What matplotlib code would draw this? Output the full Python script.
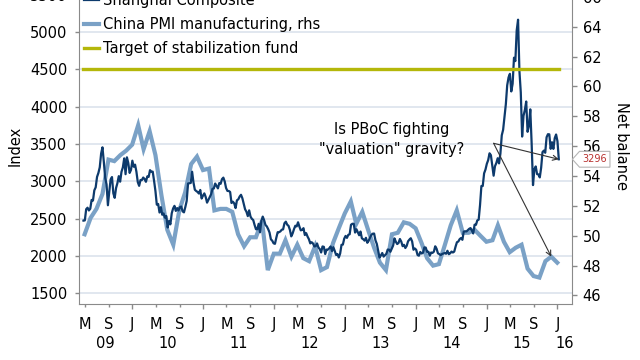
import matplotlib
matplotlib.use("Agg")
import matplotlib.pyplot as plt
import matplotlib.dates as mdates
from matplotlib.path import Path
from matplotlib.ticker import FuncFormatter, MultipleLocator
import pandas as pd

plt.rcParams["font.family"] = ["DejaVu Sans"]
plt.rcParams["font.size"] = 10

# Shanghai Composite, weekly (Friday) closes
sh_2009 = [2474, 2477, 2627, 2647, 2610, 2633, 2751, 2743, 2880, 2920, 3060, 3113,
           3189, 3372, 3456, 3260, 3046, 2960, 2680, 2862, 3026, 3058, 2840, 2779,
           2911, 2976, 3070, 2996, 3128, 3187, 3308, 3096, 3322, 3247, 3113, 3154]
sh_2010 = [3277, 3196, 3224, 3128, 2990, 2940, 3018, 3018, 3051, 3031, 2994, 3067,
           3060, 3150, 3131, 3130, 3006, 2870, 2688, 2697, 2583, 2655, 2553, 2570,
           2514, 2535, 2382, 2470, 2424, 2573, 2637, 2672, 2604, 2642, 2610, 2655,
           2663, 2598, 2585, 2656, 2738, 2971, 2975, 2979, 3129, 2985, 2888, 2871,
           2858, 2837, 2885, 2770, 2808]
sh_2011 = [2839, 2791, 2715, 2752, 2790, 2828, 2900, 2905, 2971, 2937, 2906, 2977,
           2967, 3030, 3050, 2999, 2911, 2872, 2871, 2858, 2710, 2728, 2705, 2642,
           2746, 2759, 2797, 2820, 2774, 2701, 2626, 2593, 2534, 2612, 2528, 2498,
           2482, 2416, 2359, 2359, 2431, 2318, 2473, 2528, 2481, 2416, 2397, 2360,
           2315, 2224, 2205, 2170]
sh_2012 = [2163, 2245, 2319, 2319, 2330, 2352, 2357, 2439, 2460, 2420, 2404, 2350,
           2263, 2302, 2359, 2406, 2396, 2452, 2394, 2344, 2350, 2373, 2281, 2306,
           2260, 2225, 2169, 2185, 2168, 2128, 2132, 2168, 2114, 2092, 2047, 2128,
           2123, 2026, 2086, 2086, 2104, 2128, 2066, 2118, 2069, 2015, 2027, 1980,
           2033, 2150, 2153, 2233]
sh_2013 = [2269, 2243, 2284, 2291, 2419, 2432, 2432, 2314, 2359, 2319, 2278, 2328,
           2237, 2225, 2206, 2244, 2177, 2205, 2246, 2283, 2299, 2301, 2210, 2162,
           2073, 1979, 2007, 2040, 1992, 2010, 2029, 2086, 2085, 2057, 2098, 2140,
           2236, 2191, 2160, 2175, 2228, 2193, 2132, 2150, 2107, 2136, 2197, 2220,
           2238, 2196, 2084, 2101]
sh_2014 = [2083, 2013, 2004, 2054, 2033, 2044, 2115, 2113, 2056, 2057, 2004, 2047,
           2042, 2058, 2130, 2098, 2036, 2026, 2011, 2026, 2034, 2039, 2030, 2070,
           2024, 2036, 2059, 2047, 2059, 2127, 2185, 2194, 2226, 2241, 2217, 2327,
           2331, 2329, 2347, 2364, 2374, 2341, 2302, 2420, 2418, 2478, 2487, 2683,
           2938, 2938, 3108, 3158]
sh_2015 = [3235, 3285, 3376, 3351, 3210, 3076, 3203, 3246, 3310, 3241, 3372, 3617,
           3691, 3864, 4034, 4287, 4393, 4441, 4205, 4308, 4657, 4611, 5023, 5166,
           4478, 4193, 3600, 3877, 3957, 4070, 3664, 3744, 3965, 3508, 2950, 3160,
           3200, 3097, 3093, 3053, 3183, 3392, 3412, 3383, 3591, 3632, 3630, 3436,
           3524, 3435, 3579, 3628]
sh_2016 = [3539, 3296]
shanghai = sh_2009 + sh_2010 + sh_2011 + sh_2012 + sh_2013 + sh_2014 + sh_2015 + sh_2016
sh_dates = pd.date_range("2009-04-24", periods=len(shanghai), freq="W-FRI")

# China PMI manufacturing (rhs), monthly, Apr 2009 - Dec 2015
pmi_2009 = [50.1, 51.2, 51.8, 52.8, 55.1, 55.0, 55.4, 55.7, 56.1]
pmi_2010 = [57.4, 55.8, 57.0, 55.4, 52.7, 50.4, 49.4, 51.7, 52.9, 54.8, 55.3, 54.4]
pmi_2011 = [54.5, 51.7, 51.8, 51.8, 51.6, 50.1, 49.3, 49.9, 49.9, 51.0, 47.7, 48.8]
pmi_2012 = [48.8, 49.7, 48.6, 49.4, 48.5, 48.3, 49.3, 47.7, 47.9, 49.5, 50.5, 51.5]
pmi_2013 = [52.3, 50.8, 51.6, 50.4, 49.2, 48.2, 47.7, 50.1, 50.2, 50.9, 50.8, 50.5]
pmi_2014 = [49.5, 48.5, 48.0, 48.1, 49.4, 50.7, 51.7, 50.2, 50.2, 50.4, 50.0, 49.6]
pmi_2015 = [49.7, 50.7, 49.6, 48.9, 49.2, 49.4, 47.8, 47.3, 47.2, 48.3, 48.6, 48.2]
pmi = pmi_2009 + pmi_2010 + pmi_2011 + pmi_2012 + pmi_2013 + pmi_2014 + pmi_2015
pmi_dates = pd.date_range("2009-05-01", periods=len(pmi), freq="MS") - pd.Timedelta(days=1)

target = 4500
years = list(range(2009, 2017))
x_range = (pd.Timestamp("2009-04-01"), pd.Timestamp("2016-03-16"))

c_sh, c_pmi, c_gold = "#0d3a6c", "#7aa1c6", "#b4b70a"
c_axis = "#8a8a8a"


def tag_box(x0, y0, width, height, mutation_size):
    pad = 0.3 * mutation_size
    x0, y0 = x0 - pad, y0 - pad
    x1, y1 = x0 + width + 2 * pad, y0 + height + 2 * pad
    tip = (y1 - y0) * 0.45
    return Path([(x0, y0), (x1, y0), (x1, y1), (x0, y1), (x0 - tip, (y0 + y1) / 2), (x0, y0)],
                closed=True)


fig = plt.figure(figsize=(6.4, 3.6), dpi=100)
rect = [79 / 640, 56 / 360, 493 / 640, 316.7 / 360]
ax = fig.add_axes(rect)
ax2 = ax.twinx()
ax3 = fig.add_axes(rect, sharex=ax, sharey=ax, label="top")
ax3.axis("off")

l_pmi, = ax2.plot(pmi_dates, pmi, color=c_pmi, lw=3, solid_joinstyle="miter",
                  label="China PMI manufacturing, rhs")
l_sh, = ax3.plot(sh_dates, shanghai, color=c_sh, lw=1.6, label="Shanghai Composite")
l_gold, = ax3.plot([sh_dates[0], sh_dates[-1]], [target, target], color=c_gold, lw=2.4,
                   label="Target of stabilization fund")

ax.set_xlim(*x_range)
ax.set_ylim(1357, 5600)
ax2.set_ylim(45.43, 66.64)
ax.yaxis.set_major_locator(MultipleLocator(500))
ax2.yaxis.set_major_locator(MultipleLocator(2))
ax.yaxis.grid(True, color="#dbe3ec", lw=1.2)
ax.set_axisbelow(True)

for a in (ax, ax2):
    for s in a.spines.values():
        s.set_color(c_axis)
    a.spines["top"].set_visible(False)
ax.spines["right"].set_visible(False)
for side in ("left", "bottom"):
    ax2.spines[side].set_visible(False)

ax.tick_params(axis="y", length=3, width=1, color=c_axis, pad=5.5, labelsize=10.5)
ax2.tick_params(axis="y", length=3.6, width=1, color=c_axis, pad=4, labelsize=10.5)

# month ticks: Jan long (major), May/Sep short (minor)
ax.xaxis.set_major_locator(mdates.MonthLocator(bymonth=1))
ax.xaxis.set_minor_locator(mdates.MonthLocator(bymonth=(5, 9)))
month_letter = FuncFormatter(lambda v, p: mdates.num2date(v).strftime("%b")[0])
ax.xaxis.set_major_formatter(month_letter)
ax.xaxis.set_minor_formatter(month_letter)
ax.tick_params(axis="x", which="major", length=3.6, width=1, color=c_axis, pad=5.5,
               labelsize=10.5)
ax.tick_params(axis="x", which="minor", length=2.2, width=1, color=c_axis, pad=6.9,
               labelsize=10.5)

for yr in years:
    lo = max(pd.Timestamp(f"{yr}-01-01"), x_range[0])
    hi = min(pd.Timestamp(f"{yr + 1}-01-01"), x_range[1])
    ax.annotate(f"{yr % 100:02d}", xy=(mdates.date2num(lo + (hi - lo) / 2), 0),
                xycoords=ax.get_xaxis_transform(), xytext=(0, -28.3),
                textcoords="offset points", ha="center", va="center", fontsize=10.5)

ax.set_ylabel("Index", fontsize=10.5, labelpad=5)
ax2.set_ylabel("Net balance", fontsize=10.5, rotation=270, va="bottom", labelpad=9)

ax3.legend(handles=[l_sh, l_pmi, l_gold], loc="upper left", bbox_to_anchor=(84 / 640, 1.02),
           bbox_transform=fig.transFigure, frameon=False, fontsize=10.5, handlelength=1.0,
           handletextpad=0.3, labelspacing=0.62, borderpad=0, borderaxespad=0)

# annotation
ax3.text(pd.Timestamp("2013-08-28"), 3560, "Is PBoC fighting\n\"valuation\" gravity?",
         ha="center", va="center", fontsize=10.5, linespacing=1.45)
arrow_from = (mdates.date2num(pd.Timestamp("2015-02-06")), 3510)
ax3.annotate("", xy=(mdates.date2num(sh_dates[-1]), shanghai[-1]), xytext=arrow_from,
             xycoords="data", textcoords="data",
             arrowprops=dict(arrowstyle="->", color="#333333", lw=0.8, shrinkA=0, shrinkB=0,
                             mutation_scale=9))
ax3.annotate("", xy=(mdates.date2num(pmi_dates[-2]), pmi[-2]), xycoords=ax2.transData,
             xytext=arrow_from, textcoords=ax3.transData,
             arrowprops=dict(arrowstyle="->", color="#333333", lw=0.8, shrinkA=0, shrinkB=0,
                             mutation_scale=9))

# last value tag on the right axis
ax3.annotate(f"{shanghai[-1]}", xy=(1.0, shanghai[-1]), xycoords=ax3.get_yaxis_transform(),
             xytext=(7.5, 0), textcoords="offset points", ha="left", va="center",
             fontsize=7, color="#b8312f",
             bbox=dict(boxstyle=tag_box, fc="white", ec="#b5b5b5", lw=0.8))

fig.savefig("out.png", dpi=100)
